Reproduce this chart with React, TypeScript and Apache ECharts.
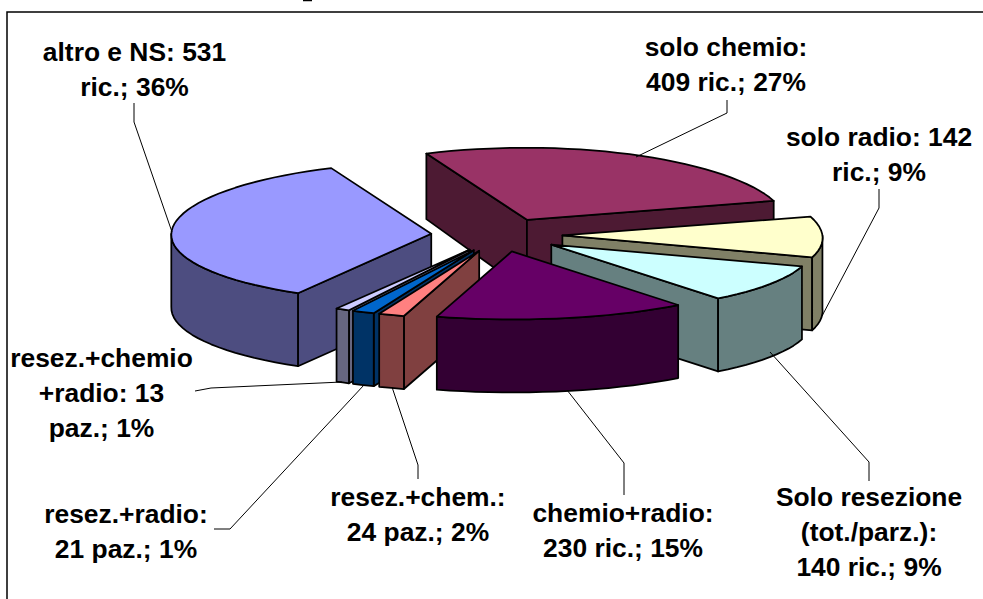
import React, { useEffect, useRef } from "react";
import * as echarts from "echarts";

const categories = ["solo chemio", "solo radio", "Solo resezione", "chemio+radio", "resez.+chem.", "resez.+radio", "resez.+chemio+radio", "altro e NS"];
const values = [409, 142, 140, 230, 24, 21, 13, 531];
const explodes = [0.24, 0.24, 0.24, 0.24, 0.24, 0.24, 0.24, 0.265];
const topColors = ["#993366", "#FFFFCC", "#CCFFFF", "#660066", "#FF8080", "#0066CC", "#CCCCFF", "#9999FF"];
const sideColors = ["#4D1A33", "#808066", "#668080", "#330033", "#804040", "#003366", "#666680", "#4D4D80"];

const labelLines = [
  ["solo chemio:", "409 ric.; 27%"],
  ["solo radio: 142", "ric.; 9%"],
  ["Solo resezione", "(tot./parz.):", "140 ric.; 9%"],
  ["chemio+radio:", "230 ric.; 15%"],
  ["resez.+chem.:", "24 paz.; 2%"],
  ["resez.+radio:", "21 paz.; 1%"],
  ["resez.+chemio", "+radio: 13", "paz.; 1%"],
  ["altro e NS: 531", "ric.; 36%"],
];
const labelAnchors = [
  [726, 47], [879, 137], [869, 497], [623, 513], [418, 497], [126, 514], [101.5, 358], [134.5, 52],
];
const leaders = [
  [[727, 100], [727, 113], [636, 157]],
  [[879, 189], [879, 208], [822, 316]],
  [[869, 481], [869, 462], [770, 352]],
  [[624, 495], [624, 463], [567, 390]],
  [[418, 479], [418, 465], [392, 387]],
  [[214, 529], [230, 529], [364, 385]],
  [[195, 391], [211, 388], [342, 382]],
  [[134, 103], [134, 122], [172, 232]],
];

const START = -23;
const CX = 500, CY = 235, RX = 260, RY = 70, DEPTH = 73, PERSP_Y = -0.02, PERSP_XR = 0.03, PERSP_XL = 0.01, DEPTH_FADE = 0.1;
const total = values.reduce((a, b) => a + b, 0);
const rad = (d: number) => (d * Math.PI) / 180;

function project(X: number, Y: number, Z: number) {
  const wx = 1 + (X > 0 ? PERSP_XR : PERSP_XL) * Y;
  const wy = 1 + PERSP_Y * Y;
  return [CX + (RX * X) / wx, CY - (RY * Y) / wy + (DEPTH * Z) / (1 + DEPTH_FADE * Math.max(0, Y))];
}

let acc = 0;
const slices = values.map((v, i) => {
  const a0 = START + (acc / total) * 360;
  acc += v;
  const a1 = START + (acc / total) * 360;
  return { i, a0, a1, mid: (a0 + a1) / 2 };
});
const order = [...slices].sort((p, q) => Math.cos(rad(q.mid)) - Math.cos(rad(p.mid)));

function renderSlice(_params: any, api: any) {
  const a0 = api.value(1), a1 = api.value(2), idx = api.value(3);
  const mid = (a0 + a1) / 2;
  const ox = explodes[idx] * Math.sin(rad(mid)), oy = explodes[idx] * Math.cos(rad(mid));
  const rim = (a: number, z: number) => project(ox + Math.sin(rad(a)), oy + Math.cos(rad(a)), z);
  const apex = (z: number) => project(ox, oy, z);
  const stroke = { stroke: "#000", lineWidth: 1.75, lineJoin: "round" };
  const side = { fill: sideColors[idx], ...stroke };
  const children: any[] = [];
  const poly = (points: number[][], style: any) => children.push({ type: "polygon", shape: { points }, style });
  if (Math.cos(rad(a0 - 90)) < 0) poly([apex(0), rim(a0, 0), rim(a0, 1), apex(1)], side);
  if (Math.cos(rad(a1 + 90)) < 0) poly([apex(0), rim(a1, 0), rim(a1, 1), apex(1)], side);
  const from = Math.max(a0, 90), to = Math.min(a1, 270);
  if (to > from) {
    const top: number[][] = [], bot: number[][] = [];
    const n = Math.max(2, Math.ceil((to - from) / 3));
    for (let j = 0; j <= n; j++) {
      const a = from + ((to - from) * j) / n;
      top.push(rim(a, 0));
      bot.unshift(rim(a, 1));
    }
    poly([...top, ...bot], side);
  }
  const cap: number[][] = [apex(0)];
  const n = Math.max(2, Math.ceil((a1 - a0) / 3));
  for (let j = 0; j <= n; j++) cap.push(rim(a0 + ((a1 - a0) * j) / n, 0));
  poly(cap, { fill: topColors[idx], ...stroke });
  return { type: "group", children };
}

const FONT = '"Liberation Sans", Arial, sans-serif';
const LINE_H = 35;

function labelGraphics() {
  const out: any[] = [
    { type: "rect", z: 1, shape: { x: 7, y: 12, width: 1100, height: 700 }, style: { fill: "#fff", stroke: "#000", lineWidth: 1.5 } },
    { type: "line", z: 60, shape: { x1: 303, y1: 0.5, x2: 312, y2: 0.5 }, style: { stroke: "#000", lineWidth: 1.5 } },
  ];
  leaders.forEach((points) => {
    out.push({ type: "polyline", z: 50, shape: { points }, style: { fill: "none", stroke: "#000", lineWidth: 1 } });
  });
  labelLines.forEach((lines, i) => {
    lines.forEach((text, j) => {
      out.push({
        type: "text", z: 60, x: labelAnchors[i][0], y: labelAnchors[i][1] + j * LINE_H,
        style: { text, fill: "#000", font: `bold 26.4px ${FONT}`, textAlign: "center", textVerticalAlign: "middle" },
      });
    });
  });
  return out;
}

export default function App() {
  const ref = useRef<HTMLDivElement>(null);
  useEffect(() => {
    const chart = echarts.init(ref.current!, null, { renderer: "svg" });
    chart.setOption({
      animation: false,
      backgroundColor: "#fff",
      graphic: { elements: labelGraphics() },
      series: [
        {
          type: "custom",
          coordinateSystem: "none",
          z: 10,
          silent: true,
          renderItem: renderSlice,
          encode: { value: 0 },
          data: order.map((s) => ({ name: categories[s.i], value: [values[s.i], s.a0, s.a1, s.i] })),
        },
      ],
    });
    return () => chart.dispose();
  }, []);
  return <div ref={ref} style={{ position: "absolute", left: 0, top: 0, width: 983, height: 599 }} />;
}
